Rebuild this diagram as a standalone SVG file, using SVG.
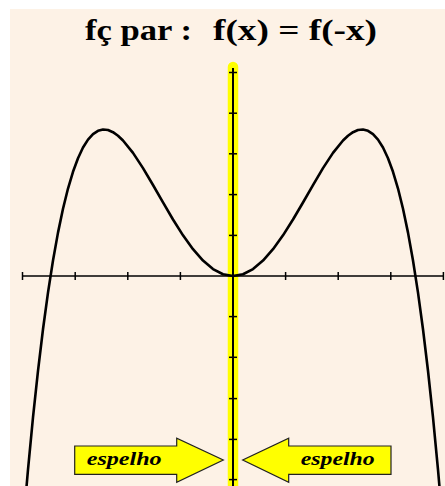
<svg xmlns="http://www.w3.org/2000/svg" width="445" height="486" viewBox="0 0 445 486">
<defs>
<style>
.title{font-family:"Liberation Serif","Times New Roman",serif;font-weight:bold;font-size:29px;fill:#000}
.lbl{font-family:"Liberation Serif","Times New Roman",serif;font-weight:bold;font-style:italic;font-size:18px;fill:#000}
.arrow{fill:#FFFF00;stroke:#222;stroke-width:1.2;stroke-linejoin:miter}
.tick{stroke:#000;stroke-width:1.5}
</style>
<clipPath id="bgclip"><rect x="10" y="9" width="435" height="477"/></clipPath>
</defs>
<rect x="0" y="0" width="445" height="486" fill="#FFFFFF"/>
<rect id="background" x="10" y="9" width="435" height="477" fill="#FDF2E6"/>
<g id="title">
<text class="title" x="85" y="39.5" textLength="107" lengthAdjust="spacingAndGlyphs">fç par :</text>
<text class="title" x="213" y="39.5" textLength="164" lengthAdjust="spacingAndGlyphs">f(x) = f(-x)</text>
</g>
<g id="mirror">
<path d="M233 67 L233 486" stroke="#FFFF00" stroke-width="10.5" stroke-linecap="round"/>
</g>
<g id="axes">
<line x1="22" y1="276" x2="444" y2="276" stroke="#000" stroke-width="1.5"/>
<line x1="233" y1="68" x2="233" y2="486" stroke="#000" stroke-width="2"/>
<g class="tick">
<line x1="22.5" y1="272" x2="22.5" y2="280"/>
<line x1="75.2" y1="272" x2="75.2" y2="280"/>
<line x1="127.8" y1="272" x2="127.8" y2="280"/>
<line x1="180.4" y1="272" x2="180.4" y2="280"/>
<line x1="285.6" y1="272" x2="285.6" y2="280"/>
<line x1="338.2" y1="272" x2="338.2" y2="280"/>
<line x1="390.8" y1="272" x2="390.8" y2="280"/>
<line x1="443.4" y1="272" x2="443.4" y2="280"/>
<line x1="229" y1="72.5" x2="237" y2="72.5"/>
<line x1="229" y1="113.2" x2="237" y2="113.2"/>
<line x1="229" y1="153.8" x2="237" y2="153.8"/>
<line x1="229" y1="194.6" x2="237" y2="194.6"/>
<line x1="229" y1="235.4" x2="237" y2="235.4"/>
<line x1="229" y1="316.6" x2="237" y2="316.6"/>
<line x1="229" y1="357.3" x2="237" y2="357.3"/>
<line x1="229" y1="398.6" x2="237" y2="398.6"/>
<line x1="229" y1="439.4" x2="237" y2="439.4"/>
<line x1="229" y1="479.6" x2="237" y2="479.6"/>
</g>
</g>
<g id="curve" clip-path="url(#bgclip)">
<polyline fill="none" stroke="#000" stroke-width="2.6" stroke-linejoin="round" points="23,527.44 28,469.56 33,417.44 38,370.78 43,329.28 48,292.61 53,260.49 58,232.63 63,208.73 68,188.54 73,171.78 78,158.21 83,147.56 88,139.6 93,134.09 98,130.81 103,129.53 108,130.06 113,132.18 118,135.71 123,140.45 133,152.89 143,168.14 153,185.03 163,202.47 173,219.51 183,235.32 193,249.2 203,260.59 213,269.05 223,274.25 233,276 243,274.25 253,269.05 263,260.59 273,249.2 283,235.32 293,219.51 303,202.47 313,185.03 323,168.14 333,152.89 343,140.45 348,135.71 353,132.18 358,130.06 363,129.53 368,130.81 373,134.09 378,139.6 383,147.56 388,158.21 393,171.78 398,188.54 403,208.73 408,232.63 413,260.49 418,292.61 423,329.28 428,370.78 433,417.44 438,469.56 443,527.44"/>
</g>
<g id="arrow-left">
<polygon class="arrow" points="74.7,446 176.7,446 176.7,438.3 223.3,460 176.7,482.3 176.7,474.3 74.7,474.3"/>
<text class="lbl" x="86.7" y="464.5" textLength="75" lengthAdjust="spacingAndGlyphs">espelho</text>
</g>
<g id="arrow-right">
<polygon class="arrow" points="391,446 288.7,446 288.7,438.3 242.7,460 288.7,482.3 288.7,474.3 391,474.3"/>
<text class="lbl" x="300.7" y="464.5" textLength="74" lengthAdjust="spacingAndGlyphs">espelho</text>
</g>
</svg>
